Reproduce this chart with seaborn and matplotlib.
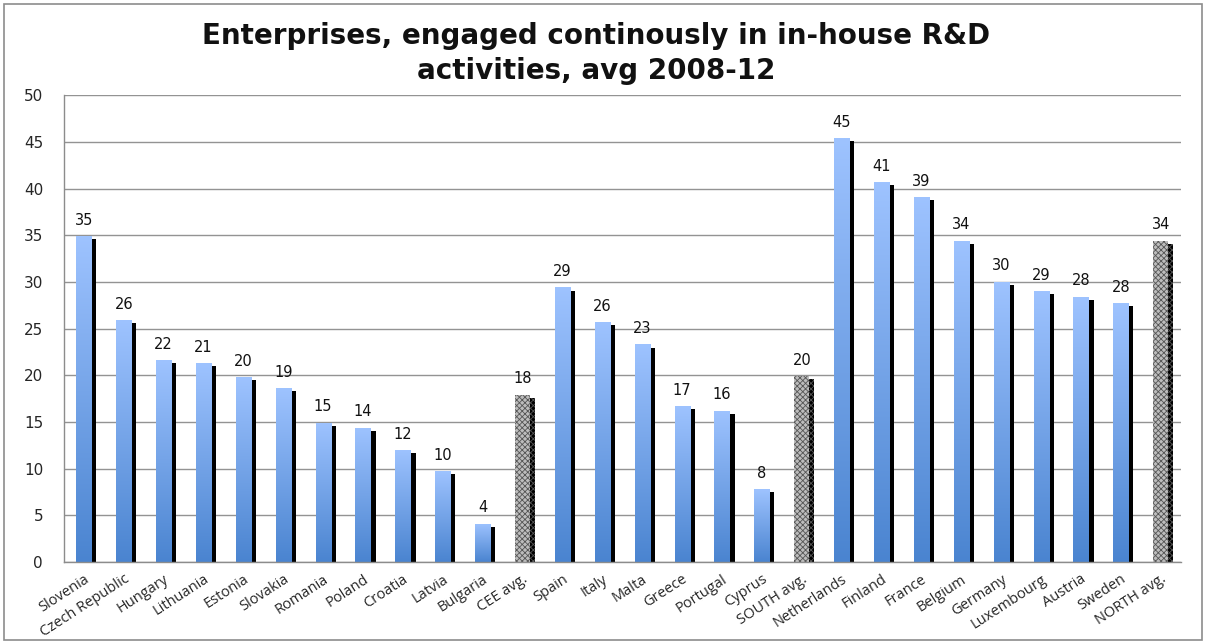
import numpy as np
import pandas as pd
import matplotlib
matplotlib.use('Agg')
import matplotlib.pyplot as plt
import matplotlib.patheffects as pe
from matplotlib.colors import LinearSegmentedColormap
from matplotlib.patches import Rectangle
import seaborn as sns

countries = ['Slovenia', 'Czech Republic', 'Hungary', 'Lithuania', 'Estonia', 'Slovakia',
             'Romania', 'Poland', 'Croatia', 'Latvia', 'Bulgaria', 'CEE avg.',
             'Spain', 'Italy', 'Malta', 'Greece', 'Portugal', 'Cyprus', 'SOUTH avg.',
             'Netherlands', 'Finland', 'France', 'Belgium', 'Germany', 'Luxembourg',
             'Austria', 'Sweden', 'NORTH avg.']
values = [34.9, 25.9, 21.6, 21.3, 19.8, 18.6, 14.9, 14.4, 12.0, 9.7, 4.1, 17.9,
          29.4, 25.7, 23.3, 16.7, 16.2, 7.8, 19.9,
          45.4, 40.7, 39.1, 34.4, 30.0, 29.0, 28.4, 27.7, 34.4]
avg_labels = ['CEE avg.', 'SOUTH avg.', 'NORTH avg.']

df = pd.DataFrame({'country': countries, 'value': values})

sns.set_style('white')
plt.rcParams['font.family'] = ['DejaVu Sans']
plt.rcParams['font.stretch'] = 'normal'
plt.rcParams['hatch.linewidth'] = 0.6

fig = plt.figure(figsize=(12.06, 6.43), dpi=100)
ax = fig.add_axes([0.053, 0.126, 0.926, 0.726])

sns.barplot(data=df, x='country', y='value', color='#6fa0e6', width=0.38,
            ax=ax, zorder=2, saturation=1)

# gradient fill clipped to each bar + black drop shadow
blues = LinearSegmentedColormap.from_list('bl', ['#4a84d0', '#9ec3ff'])
grad = np.linspace(0, 1, 256).reshape(-1, 1)
shadow = [pe.SimplePatchShadow(offset=(3.6, -2.2), shadow_rgbFace='black', alpha=1.0),
          pe.Normal()]

for patch, name in zip(ax.patches, countries):
    patch.set_path_effects(shadow)
    patch.set_linewidth(0)
    if name in avg_labels:
        patch.set_facecolor('#bdbdbd')
        patch.set_edgecolor('#555555')
        patch.set_hatch('xxxxxx')
    else:
        x0, w, h = patch.get_x(), patch.get_width(), patch.get_height()
        im = ax.imshow(grad, extent=[x0, x0 + w, 0, h], origin='lower',
                       aspect='auto', cmap=blues, zorder=2.5)
        im.set_clip_path(patch)
    ax.text(patch.get_x() + patch.get_width() / 2, patch.get_height() + 0.9,
            f'{patch.get_height():.0f}', ha='center', va='bottom',
            fontsize=10.5, family='DejaVu Sans', stretch='normal', color='#111111', zorder=4)

ax.set_xlim(-0.5, len(countries) - 0.5)
ax.set_ylim(0, 50)
ax.set_yticks(range(0, 51, 5))
ax.yaxis.grid(True, color='#939393', linewidth=1)
ax.set_axisbelow(True)
ax.set_xlabel('')
ax.set_ylabel('')

ax.set_xticks(range(len(countries)))
ax.set_xticklabels(countries, rotation=33, ha='right', va='top', rotation_mode='anchor',
                   fontsize=10.5, family='Open Sans')
ax.set_xticks(np.arange(-0.5, len(countries), 1), minor=True)
ax.tick_params(axis='x', which='major', length=0, pad=7)
ax.tick_params(axis='x', which='minor', length=5, color='#8c8c8c', width=1, direction='out')
ax.tick_params(axis='y', length=5, color='#8c8c8c', width=1, direction='out', pad=10)
for lab in ax.get_yticklabels():
    lab.set_family('DejaVu Sans')
    lab.set_fontsize(11)

for s in ['top', 'right']:
    ax.spines[s].set_visible(False)
for s in ['left', 'bottom']:
    ax.spines[s].set_color('#8c8c8c')
    ax.spines[s].set_linewidth(1)

fig.text(0.494, 0.917, 'Enterprises, engaged continously in in-house R&D\nactivities, avg 2008-12',
         ha='center', va='center', fontsize=20, fontweight='bold', family='DejaVu Sans',
         color='#111111', linespacing=1.35)

fig.patches.append(Rectangle((0.003, 0.004), 0.994, 0.99, transform=fig.transFigure,
                             fill=False, edgecolor='#8c8c8c', linewidth=1.2))

fig.savefig('out.png', dpi=100)
